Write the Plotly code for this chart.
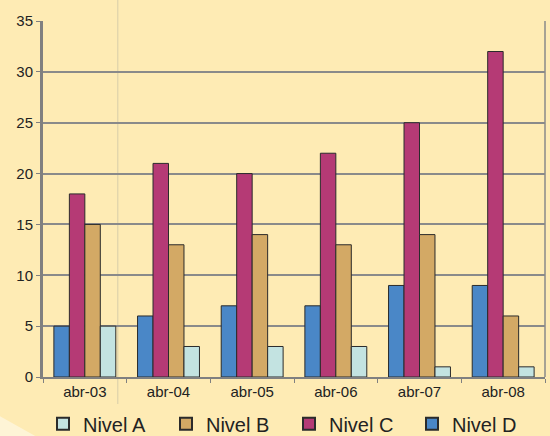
import plotly.graph_objects as go

categories = ["abr-03", "abr-04", "abr-05", "abr-06", "abr-07", "abr-08"]
nivel_a = [5, 3, 3, 3, 1, 1]
nivel_b = [15, 13, 14, 13, 14, 6]
nivel_c = [18, 21, 20, 22, 25, 32]
nivel_d = [5, 6, 7, 7, 9, 9]

series = [
    ("Nivel D", nivel_d, "#4A87C7"),
    ("Nivel C", nivel_c, "#B53A75"),
    ("Nivel B", nivel_b, "#D3A965"),
    ("Nivel A", nivel_a, "#C3E3E1"),
]

fig = go.Figure()
for name, vals, col in series:
    fig.add_trace(go.Bar(
        x=categories, y=vals, name=name,
        marker=dict(color=col, line=dict(color="#2b2b2b", width=1)),
    ))

bg = "#FEEBB4"
fig.update_layout(
    width=550, height=436,
    paper_bgcolor=bg, plot_bgcolor=bg,
    margin=dict(l=43, r=5, t=21, b=59, autoexpand=False),
    barmode="group", bargap=0.26, bargroupgap=0,
    font=dict(family="Liberation Sans, Arial", size=15, color="#222"),
    legend=dict(orientation="h", x=0.49, xanchor="center", yref="container",
                y=0.028, yanchor="middle",
                traceorder="reversed", font=dict(size=20, color="#222"),
                entrywidth=78, itemsizing="constant"),
    showlegend=True,
    shapes=[
        dict(type="path", xref="paper", yref="paper",
             path="M -0.2 -0.02 L -0.01 -0.17 L 0.0 -0.2 L -0.2 -0.2 Z",
             fillcolor="#FEF4D6", line=dict(width=0), layer="below"),
        dict(type="line", xref="paper", yref="paper", x0=0.149, x1=0.149, y0=-0.2, y1=1.1,
             line=dict(color="#D8CDA8", width=1), layer="below"),
        dict(type="line", xref="paper", yref="paper", x0=1, x1=1, y0=0, y1=1,
             line=dict(color="#8a8a8a", width=1.5)),
    ],
)
fig.update_yaxes(range=[0, 35], dtick=5, showgrid=True, gridcolor="#8a8a8a", gridwidth=1.5,
                 showline=True, linecolor="#808080", linewidth=3, automargin=False,
                 ticks="outside", ticklen=4, tickcolor="#808080", zeroline=False)
fig.update_xaxes(showline=True, linecolor="#808080", linewidth=2, automargin=False,
                 ticks="outside", ticklen=4, tickcolor="#808080", tickson="boundaries",
                 showgrid=False)

fig.write_html("out.html", config={"displayModeBar": False},
               post_script="document.body.style.margin='0';")
